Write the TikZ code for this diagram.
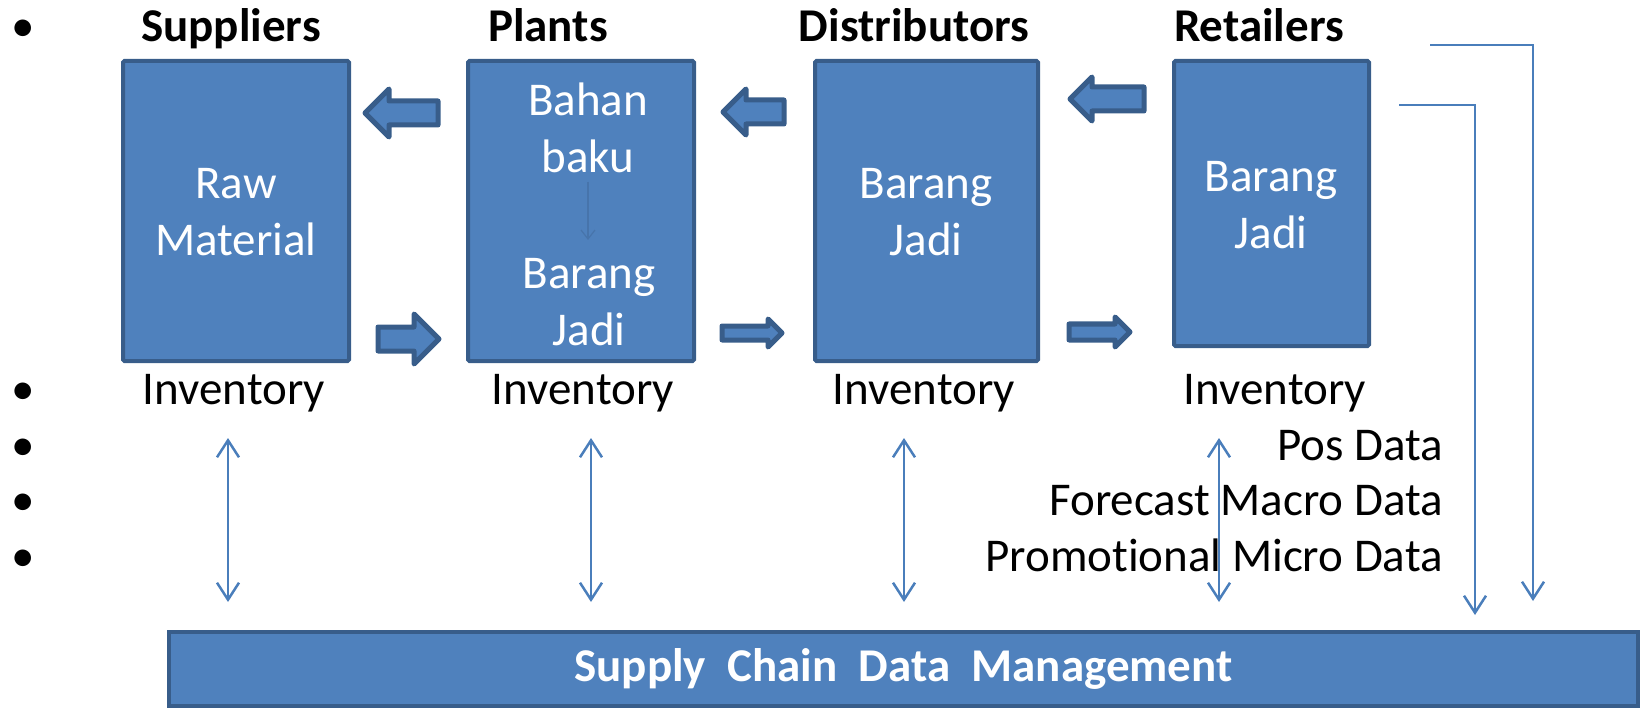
\documentclass[tikz,border=0pt]{standalone}
\usepackage{fontspec}
\setmainfont[Ligatures=NoCommon]{Carlito}
\usetikzlibrary{arrows.meta}
\definecolor{fillblue}{HTML}{4F81BD}
\definecolor{edgeblue}{HTML}{385D8A}
\definecolor{lineblue}{HTML}{4A7EBB}

% block arrow: #1 tail x, #2 tip x, #3 centre y, #4 head half height, #5 shaft half height
\newcommand\blkarrow[5]{%
  \pgfmathsetmacro\blkdir{sign(#2-#1)}%
  \pgfmathsetmacro\blkhead{#2-\blkdir*#4}%
  \draw[blockarrow] (#1,#3-#5) -- (\blkhead,#3-#5) -- (\blkhead,#3-#4) -- (#2,#3)
    -- (\blkhead,#3+#4) -- (\blkhead,#3+#5) -- (#1,#3+#5) -- cycle;}

\begin{document}
\begin{tikzpicture}[x=1pt,y=-1pt,
  big/.style={font=\fontsize{47}{57}\selectfont},
  stage/.style={draw=edgeblue, fill=fillblue, line width=4pt, rounded corners=1.5pt, inner sep=0pt},
  boxtext/.style={big, text=white, align=center, inner sep=0pt},
  title/.style={font=\fontsize{47}{57}\selectfont\bfseries, anchor=base, inner sep=0pt},
  label/.style={big, anchor=base, inner sep=0pt},
  datalabel/.style={big, anchor=base east, inner sep=0pt},
  bullet/.style={big, anchor=base, inner sep=0pt},
  blockarrow/.style={draw=edgeblue, fill=fillblue, line width=5pt, line join=round},
  link/.style={draw=lineblue, line width=2.5pt, arrows={-Straight Barb[length=17pt,width=22pt]}},
  dlink/.style={draw=lineblue, line width=2.5pt, arrows={Straight Barb[length=17pt,width=22pt]-Straight Barb[length=17pt,width=22pt]}}
]
\useasboundingbox (0,0) rectangle (1641,711);

% stage boxes
\node[stage, minimum width=226pt, minimum height=300pt] (sup) at (236,211) {};
\node[stage, minimum width=226pt, minimum height=300pt] (pla) at (581,211) {};
\node[stage, minimum width=223pt, minimum height=300pt] (dis) at (926.5,211) {};
\node[stage, minimum width=195pt, minimum height=285pt] (ret) at (1271.5,203.5) {};

% texts inside the boxes
\node[boxtext] (suptxt) at (236,212) {Raw\\Material};
\node[boxtext] (bahan) at (588,128) {Bahan\\baku};
\node[boxtext] (jadi) at (589,302) {Barang\\Jadi};
\node[boxtext] (distxt) at (926,212) {Barang\\Jadi};
\node[boxtext] (rettxt) at (1271,205) {Barang\\Jadi};

% faint step arrow inside the plant box
\coordinate (bk1) at (588,182);
\coordinate (bk2) at (588,240);
\draw[draw=edgeblue!35!fillblue, line width=1.2pt, arrows={-Straight Barb[length=9pt,width=14pt]}] (bk1) -- (bk2);

% titles
\node[title] (tsup) at (231,42) {Suppliers};
\node[title] (tpla) at (548,42) {Plants};
\node[title] (tdis) at (914,42) {Distributors};
\node[title] (tret) at (1259,42) {Retailers};

% inventory labels
\node[label] (inv1) at (234,404) {Inventory};
\node[label] (inv2) at (583,404) {Inventory};
\node[label] (inv3) at (924,404) {Inventory};
\node[label] (inv4) at (1275,404) {Inventory};

% data labels
\node[datalabel] (pos) at (1443,460) {Pos Data};
\node[datalabel] (fmd) at (1443,515.5) {Forecast Macro Data};
\node[datalabel] (pmd) at (1443,571) {Promotional Micro Data};

% bullets
\node[bullet] (b1) at (23,42) {•};
\node[bullet] (b2) at (23,404) {•};
\node[bullet] (b3) at (23,460) {•};
\node[bullet] (b4) at (23,515.5) {•};
\node[bullet] (b5) at (23,571) {•};

% material and product flows
\blkarrow{438}{365}{113}{24}{12}
\blkarrow{784}{723}{112}{23}{12}
\blkarrow{1144}{1070}{99}{22}{12}
\blkarrow{378}{439}{339}{25}{12}
\blkarrow{722}{782}{333}{14}{7}
\blkarrow{1069}{1130}{332}{15}{8}

% data management bar
\node[stage, rounded corners=0pt, minimum width=1469pt, minimum height=74pt,
      text=white, font=\fontsize{47}{57}\selectfont\bfseries] (bar) at (903.5,669)
      {Supply\ \ Chain\ \ Data\ \ Management};

% two-way data links between stages and the bar
\foreach \i/\x in {1/228, 2/591, 3/904, 4/1219} {
  \coordinate (up\i) at (\x,438);
  \coordinate (dn\i) at (\x,602);
  \draw[dlink] (up\i) -- (dn\i);
}

% retailer data feeds into the bar
\coordinate (outA) at (1430,45);
\coordinate (outB) at (1533,601);
\coordinate (inA) at (1399,105);
\coordinate (inB) at (1475,615);
\draw[link] (outA) -| (outB);
\draw[link] (inA) -| (inB);
\end{tikzpicture}
\end{document}
